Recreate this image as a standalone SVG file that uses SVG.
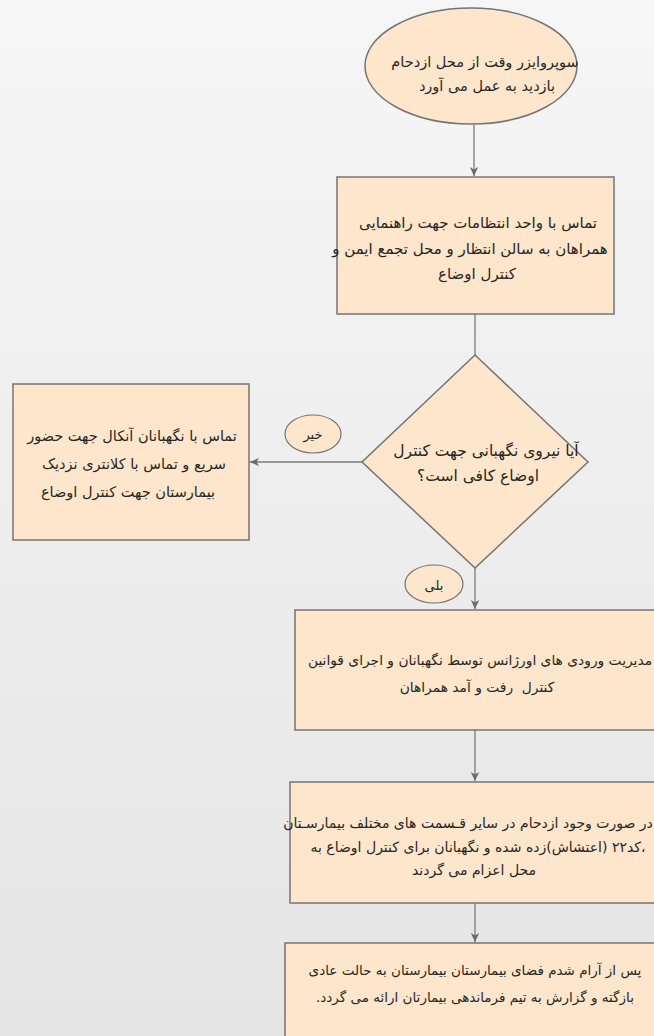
<svg xmlns="http://www.w3.org/2000/svg" width="654" height="1036" viewBox="0 0 654 1036">
<defs>
<linearGradient id="bg" x1="0" y1="0" x2="0" y2="1">
<stop offset="0" stop-color="#f6f6f6"/>
<stop offset="1" stop-color="#e5e5e5"/>
</linearGradient>
<marker id="arr" markerWidth="10" markerHeight="10" refX="9" refY="5" orient="auto" markerUnits="userSpaceOnUse">
<path d="M0,0.8 L9,5 L0,9.2 L2.5,5 Z" fill="#6a6a6a"/>
</marker>
<style>
.shape{fill:#fde6cb;stroke:#747474;stroke-width:1.5}
.lbl{fill:#fde6cb;stroke:#747474;stroke-width:1.2}
.t{font-family:"DejaVu Sans",sans-serif;font-size:14.5px;fill:#262626;text-anchor:middle;direction:rtl}
.conn{stroke:#7a7a7a;stroke-width:1.3;fill:none}
</style>
</defs>
<rect width="654" height="1036" fill="url(#bg)"/>
<g id="connectors">
<path class="conn" d="M474,125 V176" marker-end="url(#arr)"/>
<path class="conn" d="M475,314 V355"/>
<path class="conn" d="M362,462 H250" marker-end="url(#arr)"/>
<path class="conn" d="M475,568 V609" marker-end="url(#arr)"/>
<path class="conn" d="M475,730 V781" marker-end="url(#arr)"/>
<path class="conn" d="M475,903 V942" marker-end="url(#arr)"/>
</g>
<g id="start">
<ellipse class="shape" cx="471" cy="66" rx="106" ry="58" stroke-width="1.2"/>
<text class="t" x="485" y="67">سوپروایزر وقت از محل ازدحام</text>
<text class="t" x="487" y="91">بازدید به عمل می آورد</text>
</g>
<g id="contact">
<rect class="shape" x="337" y="177" width="277" height="137"/>
<text class="t" x="478" y="228" style="font-size:15px">تماس با واحد انتظامات جهت راهنمایی</text>
<text class="t" x="470" y="254" style="font-size:15px">همراهان به سالن انتظار و محل تجمع ایمن و</text>
<text class="t" x="477" y="279" style="font-size:15px">کنترل اوضاع</text>
</g>
<g id="decision">
<path class="shape" d="M475,355 L588,462 L475,568 L362,462 Z"/>
<text class="t" x="486" y="456" style="font-size:15.5px">آیا نیروی نگهبانی جهت کنترل</text>
<text class="t" x="478" y="481" style="font-size:15.5px">اوضاع کافی است؟</text>
</g>
<g id="no-label">
<ellipse class="lbl" cx="313" cy="434" rx="28" ry="19"/>
<text class="t" x="313" y="439" style="font-size:13px">خیر</text>
</g>
<g id="yes-label">
<ellipse class="lbl" cx="434" cy="584" rx="29" ry="19"/>
<text class="t" x="434" y="590" style="font-size:13px">بلی</text>
</g>
<g id="backup">
<rect class="shape" x="13" y="384" width="236" height="156"/>
<text class="t" x="132" y="441">تماس با نگهبانان آنکال جهت حضور</text>
<text class="t" x="134" y="469">سریع و تماس با کلانتری نزدیک</text>
<text class="t" x="128" y="497">بیمارستان جهت کنترل اوضاع</text>
</g>
<g id="manage">
<rect class="shape" x="295" y="610" width="370" height="120"/>
<text class="t" x="480" y="665" style="font-size:13.8px">مدیریت ورودی های اورژانس توسط نگهبانان و اجرای قوانین</text>
<text class="t" x="477" y="692" style="font-size:13.8px" xml:space="preserve">کنترل  رفت و آمد همراهان</text>
</g>
<g id="code22">
<rect class="shape" x="290" y="782" width="375" height="121"/>
<text class="t" x="468" y="828" style="font-size:14px">در صورت وجود ازدحام در سایر قـسمت های مختلف بیمارسـتان</text>
<text class="t" x="478" y="852" style="font-size:14px">،کد۲۲ (اعتشاش)زده شده و نگهبانان برای کنترل اوضاع به</text>
<text class="t" x="474" y="875" style="font-size:14px">محل اعزام می گردند</text>
</g>
<g id="report">
<rect class="shape" x="285" y="943" width="380" height="110"/>
<text class="t" x="475" y="975" style="font-size:13.5px">پس از آرام شدم فضای بیمارستان بیمارستان به حالت عادی</text>
<text class="t" x="475" y="1002" style="font-size:13.5px">بازگته و گزارش به تیم فرماندهی بیمارتان ارائه می گردد.</text>
</g>
</svg>
